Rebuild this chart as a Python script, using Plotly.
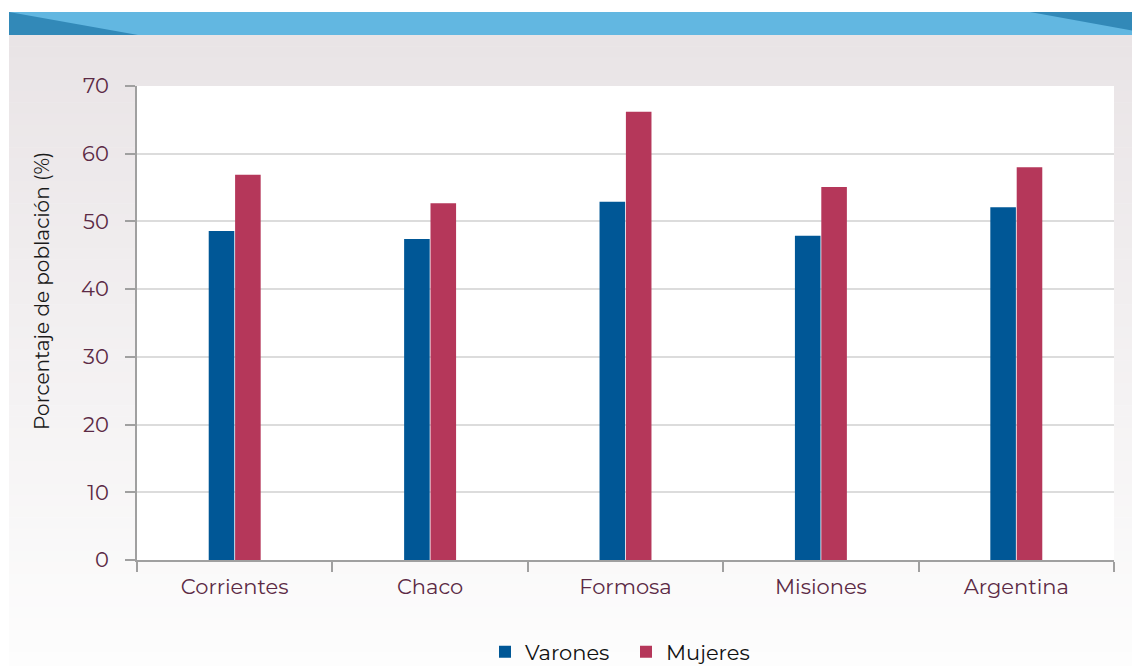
import plotly.graph_objects as go

categories = ["Corrientes", "Chaco", "Formosa", "Misiones", "Argentina"]
varones = [48.6, 47.4, 52.9, 47.9, 52.1]
mujeres = [56.9, 52.7, 66.2, 55.1, 58.0]
y_ticks = [0, 10, 20, 30, 40, 50, 60, 70]

# page offset (body margin) so coordinates below are in screen pixels
OX, OY = 8, 8
W, H = 1140, 700
L, R, T, B = 137 - OX, 1114 - OX, 86 - OY, 560 - OY

def px(x):
    return (x - OX - L) / (R - L)

def py(y):
    return (B - (y - OY)) / (B - T)

fig = go.Figure()
fig.add_trace(go.Bar(name="Varones", x=categories, y=varones, marker_color="#005796",
                     marker_line_width=0))
fig.add_trace(go.Bar(name="Mujeres", x=categories, y=mujeres, marker_color="#B5375A",
                     marker_line_width=0))

shapes = []
n = 60
y0p, y1p = 35, 708
c0 = (233, 228, 230)
c1 = (253, 253, 253)
for i in range(n):
    a = y0p + (y1p - y0p) * i / n
    b = y0p + (y1p - y0p) * (i + 1) / n + 0.5
    t = min(1.0, i / (n * 0.93))
    col = tuple(int(round(c0[k] + (c1[k] - c0[k]) * t)) for k in range(3))
    shapes.append(dict(type="rect", xref="paper", yref="paper", x0=px(9), x1=px(1160),
                       y0=py(b), y1=py(a), fillcolor="rgb(%d,%d,%d)" % col,
                       line_width=0, layer="below"))
shapes.append(dict(type="rect", xref="paper", yref="paper", x0=0, x1=1, y0=0, y1=1,
                   fillcolor="white", line_width=0, layer="below"))
shapes.append(dict(type="rect", xref="paper", yref="paper", x0=px(9), x1=px(1160),
                   y0=py(35), y1=py(12), fillcolor="#62B7E1", line_width=0, layer="below"))
shapes.append(dict(type="path", xref="paper", yref="paper",
                   path="M %f,%f L %f,%f L %f,%f Z" % (px(9), py(12), px(138), py(35), px(9), py(35)),
                   fillcolor="#3289B8", line_width=0, layer="below"))
shapes.append(dict(type="path", xref="paper", yref="paper",
                   path="M %f,%f L %f,%f L %f,%f Z" % (px(1030), py(12), px(1160), py(12), px(1160), py(35.5)),
                   fillcolor="#3289B8", line_width=0, layer="below"))

fig.update_layout(
    width=W, height=H,
    margin=dict(l=L, r=W - R, t=T, b=H - B),
    paper_bgcolor="white",
    plot_bgcolor="rgba(0,0,0,0)",
    barmode="group",
    bargap=0.73,
    bargroupgap=0.03,
    shapes=shapes,
    font=dict(family="Montserrat, Lato, Open Sans, sans-serif", color="#5C2A45", size=21),
    legend=dict(orientation="h", x=px(626), xanchor="center", y=py(652), yanchor="middle",
                font=dict(size=21, color="#111111"), bgcolor="rgba(0,0,0,0)",
                traceorder="normal", entrywidth=96, entrywidthmode="pixels"),
    annotations=[dict(text="Porcentaje de población (%)", xref="paper", yref="paper",
                      x=px(42), y=py(291), xanchor="center", yanchor="middle",
                      textangle=-90, showarrow=False,
                      font=dict(size=20, color="#1A1A1A"))],
)
fig.update_xaxes(showline=True, linecolor="#A0A0A0", linewidth=2, ticks="outside",
                 tickson="boundaries", ticklen=10, tickcolor="#A0A0A0", tickwidth=2,
                 showgrid=False, tickfont=dict(size=21, color="#5C2A45"),
                 ticklabelstandoff=7)
fig.update_yaxes(range=[0, 70], tickvals=y_ticks, showline=True, linecolor="#A0A0A0",
                 linewidth=2, ticks="outside", ticklen=10, tickcolor="#A0A0A0", tickwidth=2,
                 showgrid=True, gridcolor="#DCDCDC", gridwidth=2, zeroline=False,
                 tickfont=dict(size=21, color="#5C2A45"), ticklabelstandoff=12)

fig.write_html("out.html")
